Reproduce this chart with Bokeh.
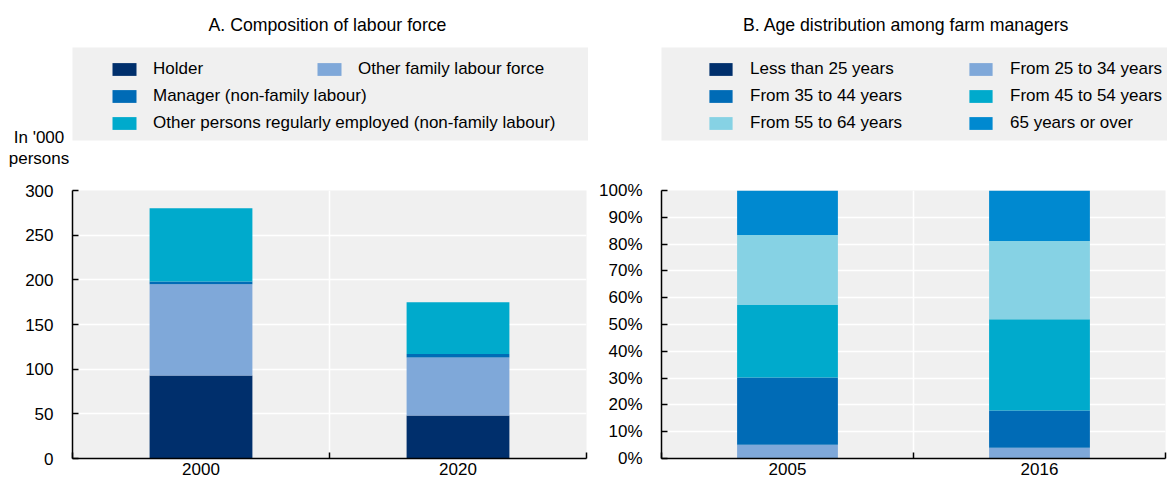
from bokeh.plotting import figure
from bokeh.layouts import row, column
from bokeh.models import (ColumnDataSource, Range1d, FixedTicker, Legend, LegendItem,
                          Label, BoxAnnotation, PrintfTickFormatter)
from bokeh.embed import file_html
from bokeh.resources import INLINE

# ---------------- data ----------------
years_a = ["2000", "2020"]
series_a = ["Holder", "Other family labour force", "Manager (non-family labour)",
            "Other persons regularly employed (non-family labour)"]
holder = [93, 48]
other_family = [102, 65]
manager = [3, 4]
other_persons = [82, 58]
yticks_a = [0, 50, 100, 150, 200, 250, 300]

years_b = ["2005", "2016"]
series_b = ["Less than 25 years", "From 25 to 34 years", "From 35 to 44 years",
            "From 45 to 54 years", "From 55 to 64 years", "65 years or over"]
lt25 = [0.2, 0.2]
a25_34 = [4.9, 3.8]
a35_44 = [25.1, 13.9]
a45_54 = [27.1, 34.1]
a55_64 = [26.1, 29.2]
a65p = [16.6, 18.8]
yticks_b = [0, 10, 20, 30, 40, 50, 60, 70, 80, 90, 100]

keys_a = ["holder", "other_family", "manager", "other_persons"]
keys_b = ["lt25", "a25_34", "a35_44", "a45_54", "a55_64", "a65p"]

# ---------------- style ----------------
FONT = "Liberation Sans"
FS = "17px"
FS_TITLE = "17.7px"
BG = "#F0F0F0"
NAVY = "#002F6C"
LIGHT = "#7FA8D9"
MID = "#006BB6"
CYAN = "#00AACC"
PALE = "#86D2E4"
BLUE = "#0089D0"
colors_a = [NAVY, LIGHT, MID, CYAN]
colors_b = [NAVY, LIGHT, MID, CYAN, PALE, BLUE]

HDR_H = 180
FRAME_H = 268


def style_axes(p, xs, ncat, yticks):
    p.xaxis.ticker = FixedTicker(ticks=xs, minor_ticks=[2 * i for i in range(ncat + 1)])
    p.xaxis.major_tick_line_color = None
    p.xaxis.major_tick_in = 0
    p.xaxis.major_tick_out = 0
    p.xaxis.minor_tick_in = 6
    p.xaxis.minor_tick_out = 0
    p.xaxis.minor_tick_line_color = "black"
    p.xaxis.minor_tick_line_width = 1.5
    p.xaxis.major_label_standoff = 4
    p.yaxis.ticker = FixedTicker(ticks=yticks)
    p.yaxis.major_tick_in = 6
    p.yaxis.major_tick_out = 0
    p.yaxis.minor_tick_in = 0
    p.yaxis.minor_tick_out = 0
    p.yaxis.major_tick_line_width = 1.5
    p.yaxis.major_label_standoff = 19
    for ax in (p.xaxis, p.yaxis):
        ax.axis_line_color = "black"
        ax.axis_line_width = 1.5
        ax.major_label_text_font = FONT
        ax.major_label_text_font_size = FS
        ax.major_label_text_color = "black"
    p.xgrid.ticker = FixedTicker(ticks=[2 * i for i in range(1, ncat)])
    p.ygrid.ticker = FixedTicker(ticks=yticks)
    for g in (p.xgrid, p.ygrid):
        g.grid_line_color = "white"
        g.grid_line_width = 1.5


def main_fig(frame_w, left, ymax):
    return figure(frame_width=frame_w, frame_height=FRAME_H, min_border_left=left,
                  min_border_right=2, min_border_top=10, min_border_bottom=0,
                  x_range=Range1d(0, 4), y_range=Range1d(0, ymax), title=None,
                  frame_align=False,
                  output_backend="svg", toolbar_location=None,
                  background_fill_color=BG, border_fill_color="white", outline_line_color=None)


def header_fig(width):
    h = figure(width=width, height=HDR_H, min_border=0, title=None,
               x_range=Range1d(0, 1), y_range=Range1d(0, 1),
               x_axis_type=None, y_axis_type=None, frame_align=False,
               output_backend="svg", toolbar_location=None,
               background_fill_color="white", border_fill_color="white", outline_line_color=None)
    h.grid.visible = False
    return h


def add_text(p, text, x, y_mid, size=FS):
    # y_mid: page-y of the text's middle, measured from the top of the header
    p.add_layout(Label(x=x, y=HDR_H - y_mid, x_units="screen", y_units="screen", text=text,
                       text_font=FONT, text_font_size=size, text_color="black",
                       text_align="center", text_baseline="middle"))


def add_box(p, left, right, top, bottom):
    p.add_layout(BoxAnnotation(left=left, right=right, bottom=HDR_H - bottom, top=HDR_H - top,
                               left_units="screen", right_units="screen",
                               bottom_units="screen", top_units="screen",
                               fill_color=BG, fill_alpha=1, line_color=None))


def make_legend(items, loc, gw, standoff, ncols=1, label_width=20):
    return Legend(items=items, location=loc, ncols=ncols, glyph_width=gw, glyph_height=16,
                  label_standoff=standoff, spacing=5, padding=0, margin=0,
                  label_width=label_width, label_height=22,
                  label_text_font=FONT, label_text_font_size=FS, label_text_color="black",
                  background_fill_alpha=0, border_line_color=None)


# ---------------- panel A ----------------
xa = [2 * i + 1 for i in range(len(years_a))]
src_a = ColumnDataSource(dict(x=xa, holder=holder, other_family=other_family,
                              manager=manager, other_persons=other_persons))
pa = main_fig(514, 72, 300)
pa.vbar_stack(keys_a, x="x", width=0.8, fill_color=colors_a, line_color=None, source=src_a)
style_axes(pa, xa, len(years_a), yticks_a)
pa.xaxis.major_label_overrides = {x: y for x, y in zip(xa, years_a)}

ha = header_fig(588)
add_box(ha, 72, 588, 47, 140)
# hidden copies of the stacked bars: they only carry the legend swatches
ka = ha.vbar_stack(keys_a, x="x", width=0.8, fill_color=colors_a, line_color=None,
                   source=src_a, visible=False)
ha.add_layout(make_legend([LegendItem(label=series_a[0], renderers=[ka[0]]),
                           LegendItem(label=series_a[2], renderers=[ka[2]]),
                           LegendItem(label=series_a[3], renderers=[ka[3]])],
                          (109, HDR_H - 134), 30, 14))
ha.add_layout(make_legend([LegendItem(label=series_a[1], renderers=[ka[1]])],
                          (314, HDR_H - 80), 30, 14))
add_text(ha, "A. Composition of labour force", 327, 24, FS_TITLE)
add_text(ha, "In '000", 38.5, 137.4)
add_text(ha, "persons", 38.5, 157.8)

# ---------------- panel B ----------------
xb = [2 * i + 1 for i in range(len(years_b))]
src_b = ColumnDataSource(dict(x=xb, lt25=lt25, a25_34=a25_34, a35_44=a35_44,
                              a45_54=a45_54, a55_64=a55_64, a65p=a65p))
pb = main_fig(504, 73, 100)
pb.vbar_stack(keys_b, x="x", width=0.8, fill_color=colors_b, line_color=None, source=src_b)
style_axes(pb, xb, len(years_b), yticks_b)
pb.xaxis.major_label_overrides = {x: y for x, y in zip(xb, years_b)}
pb.yaxis.formatter = PrintfTickFormatter(format="%d%%")

hb = header_fig(579)
add_box(hb, 73, 579, 47, 140)
kb = hb.vbar_stack(keys_b, x="x", width=0.8, fill_color=colors_b, line_color=None,
                   source=src_b, visible=False)
# legend is filled column by column: left column gets items 0, 2, 4; right column 1, 3, 5
order_b = [0, 2, 4, 1, 3, 5]
hb.add_layout(make_legend([LegendItem(label=series_b[i], renderers=[kb[i]]) for i in order_b],
                          (118, HDR_H - 134), 29, 15, ncols=2, label_width=211))
add_text(hb, "B. Age distribution among farm managers", 905.7 - 588, 24, FS_TITLE)

layout = row(column(ha, pa), column(hb, pb))
open("out.html", "w").write(file_html(layout, INLINE))
